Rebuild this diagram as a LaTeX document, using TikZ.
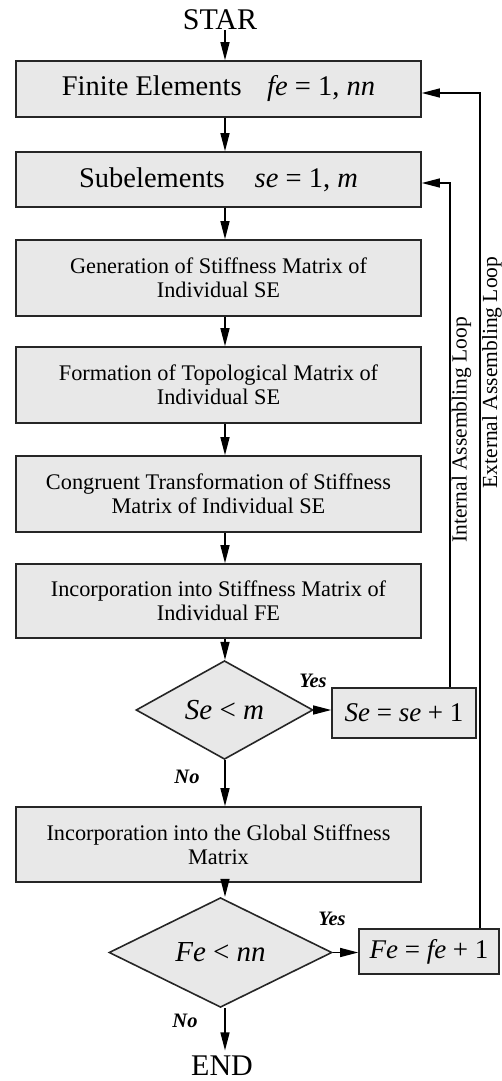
\documentclass[tikz,border=0pt]{standalone}
\usepackage{fontspec}
\setmainfont{Liberation Serif}
\usetikzlibrary{shapes.geometric,arrows.meta}
\definecolor{boxfill}{HTML}{E8E8E8}
\tikzset{
  procbox/.style={draw=black!85, line width=1.6pt, fill=boxfill, rectangle, inner sep=0pt, minimum width=405pt, align=center},
  bigtxt/.style={font=\fontsize{28.5}{30}\selectfont},
  midtxt/.style={font=\fontsize{22.3}{24}\selectfont},
  decbox/.style={draw=black!85, line width=1.6pt, fill=boxfill, diamond, inner sep=0pt, font=\fontsize{29}{30}\selectfont},
  incbox/.style={draw=black!85, line width=1.6pt, fill=boxfill, rectangle, inner sep=0pt, font=\fontsize{27}{29}\selectfont},
  arr/.style={line width=1.3pt, -{Triangle[length=18pt,width=9pt]}},
  loopline/.style={line width=1.2pt, -{Triangle[length=18pt,width=9pt]}},
  yn/.style={font=\fontsize{20.5}{22}\selectfont\bfseries\itshape, inner sep=0pt},
  term/.style={font=\fontsize{30}{32}\selectfont, inner sep=0pt},
  looplbl/.style={font=\fontsize{21.5}{23}\selectfont, rotate=90, inner sep=0pt}
}
\begin{document}
\begin{tikzpicture}[x=1pt,y=-1pt]
\useasboundingbox (0,0) rectangle (501,1081);
\coordinate (ax) at (225,0);
\coordinate (il) at (450,0);
\coordinate (el) at (480,0);

\node[term] (star) at (220,20) {STAR};
\node[procbox,bigtxt,minimum height=56pt] (b1) at (218.5,89) {Finite Elements\hspace{0.9em}\textit{fe} = 1, \textit{nn}};
\node[procbox,bigtxt,minimum height=55pt] (b2) at (218.5,179.5) {Subelements\hspace{1.05em}\textit{se} = 1, \textit{m}};
\node[procbox,midtxt,minimum height=76pt] (b3) at (218.5,278) {Generation of Stiffness Matrix of\\Individual SE};
\node[procbox,midtxt,minimum height=76pt] (b4) at (218.5,385) {Formation of Topological Matrix of\\Individual SE};
\node[procbox,midtxt,minimum height=76pt] (b5) at (218.5,494) {Congruent Transformation of Stiffness\\Matrix of Individual SE};
\node[procbox,midtxt,minimum height=74pt] (b6) at (218.5,601) {Incorporation into Stiffness Matrix of\\Individual FE};
\node[decbox,minimum width=177pt,minimum height=78pt] (d1) at (224.5,710) {\textit{Se} < \textit{m}};
\node[incbox,minimum width=144pt,minimum height=50pt] (se) at (404,713) {\textit{Se} = \textit{se} + 1};
\node[procbox,midtxt,minimum height=75pt] (b7) at (218.5,844.5) {Incorporation into the Global Stiffness\\Matrix};
\node[decbox,minimum width=223pt,minimum height=79pt] (d2) at (220.5,952.5) {\textit{Fe} < \textit{nn}};
\node[incbox,minimum width=140pt,minimum height=45pt] (fe) at (429,951.5) {\textit{Fe} = \textit{fe} + 1};
\node[term] (end) at (222,1065.5) {END};

\node[yn] (y1) at (313,681) {Yes};
\node[yn] (n1) at (187,777) {No};
\node[yn] (y2) at (332,919) {Yes};
\node[yn] (n2) at (185,1021) {No};

\node[looplbl] (il1) at (461.5,430) {Internal Assembling Loop};
\node[looplbl] (el1) at (492,372.5) {External Assembling Loop};

\draw[arr] (star.south -| ax) -- (b1.north -| ax);
\draw[arr] (b1.south -| ax) -- (b2.north -| ax);
\draw[arr] (b2.south -| ax) -- (b3.north -| ax);
\draw[arr] (b3.south -| ax) -- (b4.north -| ax);
\draw[arr] (b4.south -| ax) -- (b5.north -| ax);
\draw[arr] (b5.south -| ax) -- (b6.north -| ax);
\draw[arr] (b6.south -| ax) -- (d1.north -| ax);
\draw[arr] (d1.south -| ax) -- (b7.north -| ax);
\draw[arr] (b7.south -| ax) -- (d2.north -| ax);
\draw[arr] (d2.south -| ax) -- ([yshift=5pt]end.north -| ax);
\draw[arr] (d1.east) -- (se.west |- d1.east);
\draw[arr] (d2.east) -- (fe.west |- d2.east);
\draw[loopline] (se.north -| il) |- ([yshift=-3.5pt]b2.east);
\draw[loopline] (fe.north -| el) |- ([yshift=-4pt]b1.east);
\end{tikzpicture}
\end{document}
